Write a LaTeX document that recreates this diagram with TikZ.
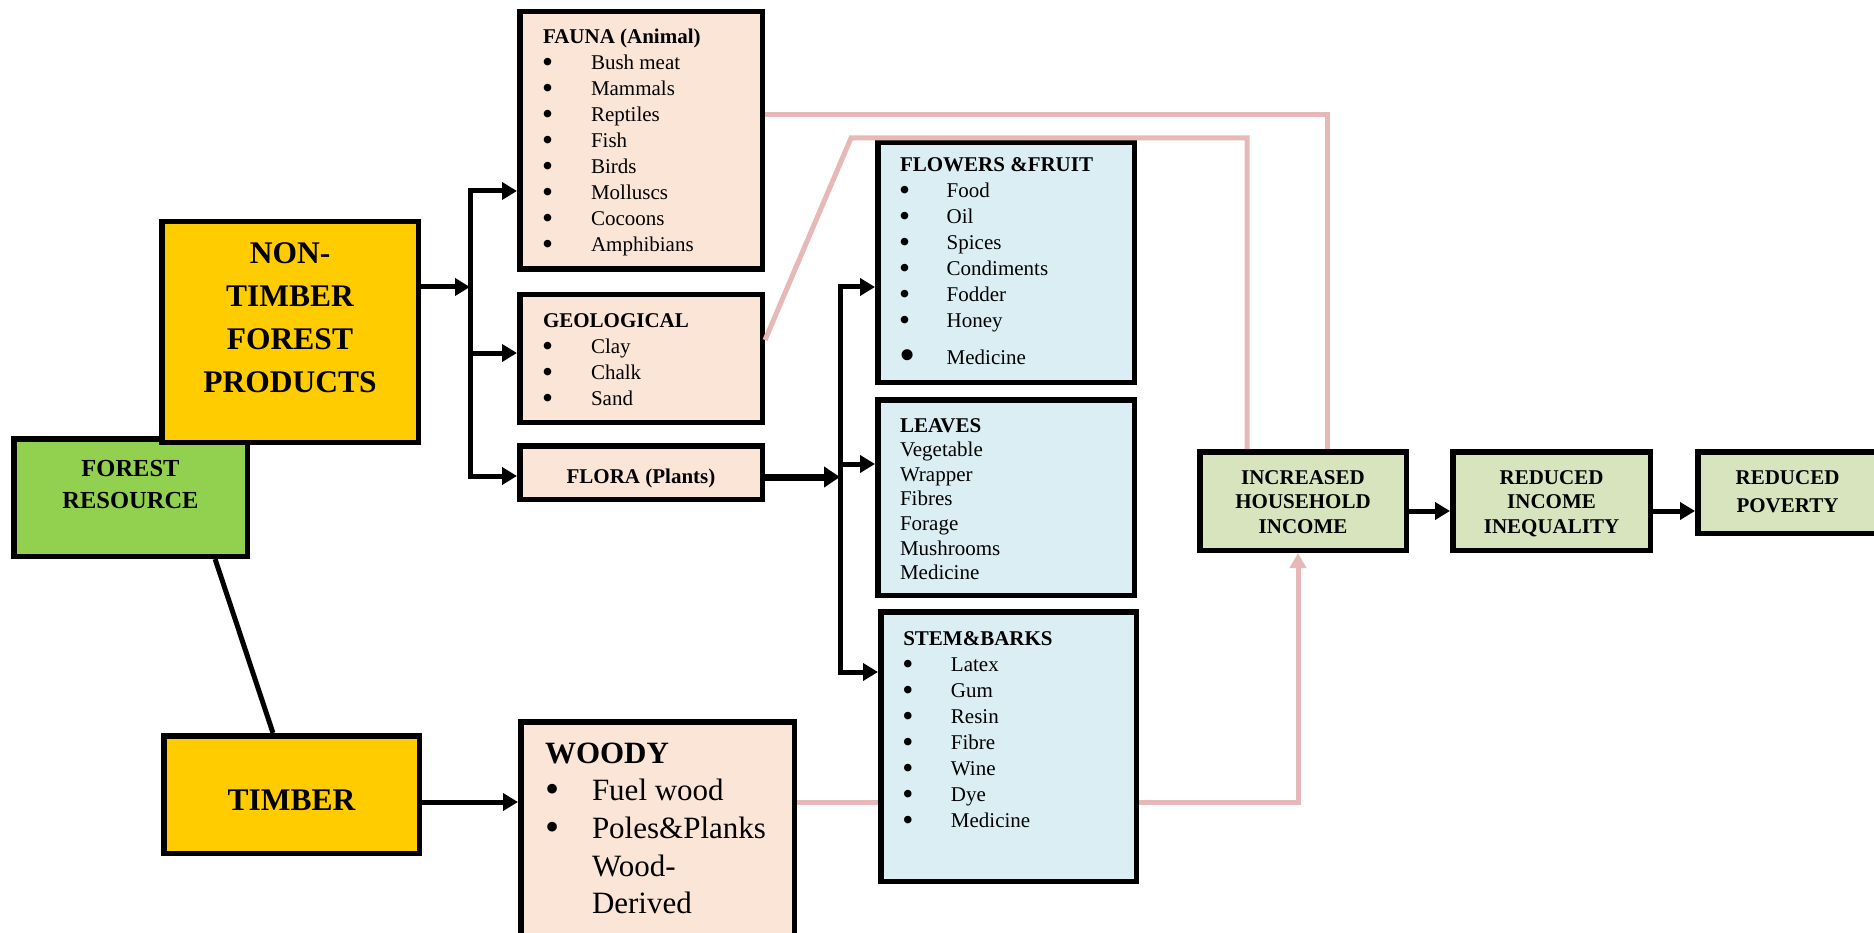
\documentclass[tikz,border=0pt]{standalone}
\usepackage{fontspec}
\setmainfont{Liberation Serif}
\usetikzlibrary{arrows.meta,calc}
\definecolor{frgreen}{HTML}{92D050}
\definecolor{gold}{HTML}{FFCC00}
\definecolor{peach}{HTML}{FBE5D6}
\definecolor{lblue}{HTML}{DAEEF3}
\definecolor{olive}{HTML}{D7E4BD}
\definecolor{pinkc}{HTML}{E6B9B8}
\newcommand{\tb}[5]{\parbox[c][#2pt][t]{#1pt}{#4\vspace*{\dimexpr#3pt-\ht\strutbox\relax}\strut#5}}
\newcommand{\bigbul}{\raisebox{-3pt}{\scalebox{1.5}{\textbullet}}}
\newcommand{\bul}[2]{\makebox[#1pt][l]{\hspace*{-1pt}\bigbul}#2}
\begin{document}
\begin{tikzpicture}[x=1pt,y=-1pt,
  box/.style={draw=black,line width=5.5pt,inner sep=0pt,outer sep=2.75pt,anchor=north west},
  txtsm/.style={font=\fontsize{21}{26}\selectfont},
  conn/.style={line width=5pt},
  arr/.style={conn,-{Triangle[length=15pt,width=17pt]}},
  pinkl/.style={draw=pinkc,line width=5pt}]
\fill[white] (0,0) rectangle (1874,933);
\useasboundingbox (0,0) rectangle (1874,933);

% coordinates for connectors
\coordinate (p1) at (1327,115);
\coordinate (p2a) at (765,340);
\coordinate (p2b) at (851,138);
\coordinate (p2c) at (1247,138);
\coordinate (ly) at (0,802);
\coordinate (p4) at (1298,802);
\coordinate (b1t) at (470,191);
\coordinate (b1m) at (470,287);
\coordinate (b1g) at (470,353);
\coordinate (b1b) at (470,476);
\coordinate (b2t) at (840,287);
\coordinate (b2m) at (840,464);
\coordinate (b2f) at (840,477);
\coordinate (b2b) at (840,672);
\coordinate (oy) at (0,511);

% boxes
\node[box,fill=frgreen,font=\fontsize{24.5}{32}\selectfont\bfseries] (fr) at (11,436)
  {\tb{233.5}{117.5}{37.25}{\centering}{FOREST\\RESOURCE}};
\node[box,fill=gold,font=\fontsize{31.5}{43}\selectfont\bfseries] (ntfp) at (159,219)
  {\tb{256.5}{220.5}{41.25}{\centering}{NON-\\TIMBER\\FOREST\\PRODUCTS}};
\node[box,fill=gold,font=\fontsize{31.5}{43}\selectfont\bfseries] (timber) at (161,733)
  {\tb{255.5}{117.5}{74.25}{\centering}{TIMBER}};

\node[box,fill=peach,txtsm] (fauna) at (517,9)
  {\tb{242.5}{257.5}{32.25}{\raggedright\leftskip=23.25pt}{\textbf{FAUNA (Animal)}\\\bul{48}{Bush meat}\\\bul{48}{Mammals}\\\bul{48}{Reptiles}\\\bul{48}{Fish}\\\bul{48}{Birds}\\\bul{48}{Molluscs}\\\bul{48}{Cocoons}\\\bul{48}{Amphibians}}};
\node[box,fill=peach,txtsm] (geo) at (517,292)
  {\tb{242.5}{127.5}{33}{\raggedright\leftskip=23.25pt}{\textbf{GEOLOGICAL}\\\bul{48}{Clay}\\\bul{48}{Chalk}\\\bul{48}{Sand}}};
\node[box,fill=peach,txtsm] (flora) at (517,443)
  {\tb{242.5}{53.5}{37.25}{\centering}{\textbf{FLORA (Plants)}}};
\node[box,fill=peach,font=\fontsize{31}{37.7}\selectfont] (woody) at (518,719)
  {\tb{273.5}{215}{41.25}{\raggedright\leftskip=24.25pt}{\textbf{WOODY}\\\makebox[47pt][l]{\raisebox{-2pt}{\scalebox{1.3}{\textbullet}}}Fuel wood\\\makebox[47pt][l]{\raisebox{-2pt}{\scalebox{1.3}{\textbullet}}}Poles\&Planks\\\hspace*{47pt}Wood-\\\hspace*{47pt}Derived}};

\node[box,fill=lblue,txtsm] (flowers) at (875,140)
  {\tb{256.5}{239.5}{29.25}{\raggedright\leftskip=22.25pt}{\textbf{FLOWERS \&FRUIT}\\\bul{46.7}{Food}\\\bul{46.7}{Oil}\\\bul{46.7}{Spices}\\\bul{46.7}{Condiments}\\\bul{46.7}{Fodder}\\\bul{46.7}{Honey}\\[11pt]\makebox[46.7pt][l]{\hspace*{-1pt}\raisebox{-5.5pt}{\scalebox{2.2}{\textbullet}}}Medicine}};
\node[box,fill=lblue,font=\fontsize{21}{24.6}\selectfont] (leaves) at (875,397)
  {\tb{256.5}{195.5}{32.25}{\raggedright\leftskip=22.25pt}{\textbf{LEAVES}\\Vegetable\\Wrapper\\Fibres\\Forage\\Mushrooms\\Medicine}};
\node[box,fill=lblue,txtsm] (stem) at (878,609)
  {\tb{255.5}{269.5}{33.25}{\raggedright\leftskip=22.5pt}{\textbf{STEM\&BARKS}\\\bul{47.7}{Latex}\\\bul{47.7}{Gum}\\\bul{47.7}{Resin}\\\bul{47.7}{Fibre}\\\bul{47.7}{Wine}\\\bul{47.7}{Dye}\\\bul{47.7}{Medicine}}};

\node[box,fill=olive,font=\fontsize{21}{24.5}\selectfont\bfseries] (inc) at (1197,449)
  {\tb{206.5}{98.5}{32.25}{\centering}{INCREASED\\HOUSEHOLD\\INCOME}};
\node[box,fill=olive,font=\fontsize{21}{24.5}\selectfont\bfseries] (ineq) at (1450,449)
  {\tb{197.5}{98.5}{32.25}{\centering}{REDUCED\\INCOME\\INEQUALITY}};
\node[box,fill=olive,font=\fontsize{21}{28}\selectfont\bfseries] (pov) at (1695,449)
  {\tb{179.5}{81.5}{32.25}{\centering}{REDUCED\\POVERTY}};

% pink connectors
\draw[pinkl] (fauna.east |- p1) -- (p1) -- (inc.north -| p1);
\draw[pinkl] (geo.east |- p2a) -- (p2b) -- (p2c) -- (inc.north -| p2c);
\draw[pinkl] (woody.east |- ly) -- (stem.west |- ly);
\draw[pinkl,-{Triangle[length=15pt,width=16pt]}] (stem.east |- ly) -- (p4) -- (inc.south -| p4);

% black connectors
\draw[conn] ($(fr.south west)!0.854!(fr.south east)$) -- ($(timber.north west)!0.429!(timber.north east)$);
\draw[arr] (ntfp.east |- b1m) -- (b1m);
\draw[conn,{Triangle[length=15pt,width=17pt]}-{Triangle[length=15pt,width=17pt]}] (flora.west |- b1b) -- (b1b) -- (b1t) -- (fauna.west |- b1t);
\draw[arr] (b1g) -- (geo.west |- b1g);
\draw[line width=7pt,-{Triangle[length=16pt,width=20pt]}] (flora.east |- b2f) -- (b2f);
\draw[conn,{Triangle[length=15pt,width=17pt]}-{Triangle[length=15pt,width=17pt]}] (stem.west |- b2b) -- (b2b) -- (b2t) -- (flowers.west |- b2t);
\draw[arr] (b2m) -- (leaves.west |- b2m);
\draw[arr] (timber.east |- ly) -- (woody.west |- ly);
\draw[arr] (inc.east |- oy) -- (ineq.west |- oy);
\draw[arr] (ineq.east |- oy) -- (pov.west |- oy);
\end{tikzpicture}
\end{document}
